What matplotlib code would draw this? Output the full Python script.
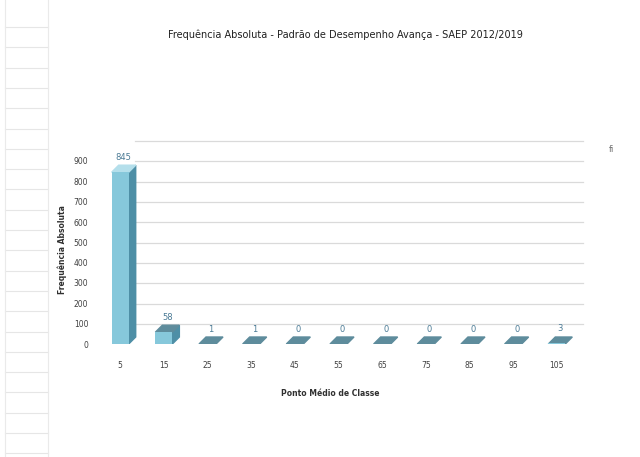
import numpy as np
import matplotlib.pyplot as plt
import matplotlib.transforms as mtransforms
from matplotlib.patches import Polygon

plt.rcParams['font.family'] = ['DejaVu Sans']

classes = ['5', '15', '25', '35', '45', '55', '65', '75', '85', '95', '105']
values = [845, 58, 1, 1, 0, 0, 0, 0, 0, 0, 3]
yticks = [0, 100, 200, 300, 400, 500, 600, 700, 800, 900]

front = '#86C8DB'
side = '#4E8FA6'
top = '#B4DFEB'
slab = '#5E8C9C'
lbl = '#4A7A95'

W, H = 640, 457
fig = plt.figure(figsize=(6.4, 4.57), dpi=100)

# axes placed in pixel terms (front plane of the 3D chart)
x0, x1, ytop, ybot = 94, 583, 161, 344
ax = fig.add_axes([x0 / W, 1 - ybot / H, (x1 - x0) / W, (ybot - ytop) / H])
ax.set_xlim(-0.6, 10.6)
ax.set_ylim(0, 900)

# spreadsheet cell lines on the left
for yy in np.arange(27, 455, 20.3):
    fig.add_artist(plt.Line2D([5 / W, 48 / W], [1 - yy / H] * 2, color='#E6E6E6', lw=0.8))
for xx in [5, 48]:
    fig.add_artist(plt.Line2D([xx / W] * 2, [0, 1], color='#EAEAEA', lw=0.8))

# back wall gridlines, shifted up by depth
back = mtransforms.offset_copy(ax.transData, fig=fig, x=0, y=20, units='dots')
for t in yticks:
    ax.plot([0.34, 10.6], [t, t], transform=back, color='#DADADA', lw=0.9, clip_on=False, zorder=0)

# data units per pixel
dxp = 11.2 / (x1 - x0)
dyp = 900 / (ybot - ytop)
ddx, ddy = 7 * dxp, 7 * dyp

xs = np.arange(len(classes))
w = 0.39
for x, v in zip(xs, values):
    l, r = x - w / 2, x + w / 2
    if v > 5:
        ax.add_patch(Polygon([(r, 0), (r + ddx, ddy), (r + ddx, v + ddy), (r, v)], color=side, zorder=2))
        ax.add_patch(Polygon([(l, v), (r, v), (r + ddx, v + ddy), (l + ddx, v + ddy)],
                             color=top if v > 100 else slab, zorder=2))
    else:
        ax.add_patch(Polygon([(l, 0), (r, 0), (r + ddx, ddy), (l + ddx, ddy)], color=slab, zorder=2))
    ax.text(x + ddx / 2, v + ddy + 15, str(v), ha='center', va='bottom', fontsize=6, color=lbl, zorder=3)
ax.bar(xs, values, width=w, color=front, zorder=2)

ax.set_yticks(yticks)
ax.set_xticks(xs)
ax.set_xticklabels(classes)
ax.tick_params(axis='both', length=0, labelsize=5.5, colors='#404040')
ax.tick_params(axis='x', pad=12)
ax.tick_params(axis='y', pad=4)
for s in ax.spines.values():
    s.set_visible(False)
ax.patch.set_alpha(0)

fig.text(345 / W, 1 - 35 / H, 'Frequência Absoluta - Padrão de Desempenho Avança - SAEP 2012/2019',
         ha='center', va='center', fontsize=7, color='#202020')
fig.text(62 / W, 1 - 250 / H, 'Frequência Absoluta', rotation=90, ha='center', va='center',
         fontsize=5.5, color='#303030', fontweight='bold')
fig.text(330 / W, 1 - 393 / H, 'Ponto Médio de Classe', ha='center', va='center',
         fontsize=5.5, color='#303030', fontweight='bold')
fig.text(612 / W, 1 - 150 / H, 'fi', ha='center', va='center', fontsize=6, color='#707070')

fig.savefig('out.png', dpi=100)
